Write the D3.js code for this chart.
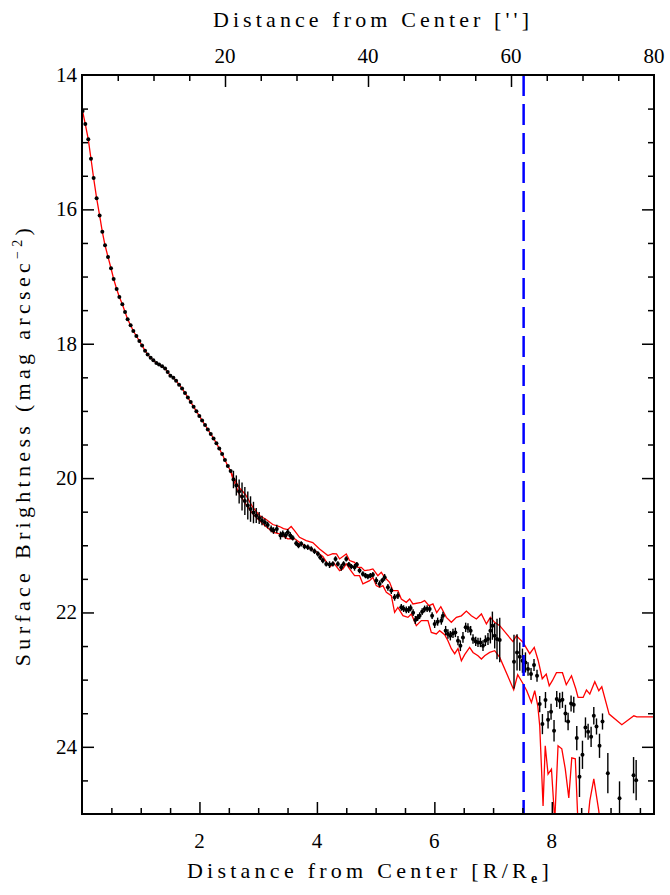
<!DOCTYPE html>
<html><head><meta charset="utf-8">
<script src="https://cdn.jsdelivr.net/npm/d3@7"></script>
<style>
html,body{margin:0;padding:0;background:#fff;}
svg{display:block;}
text{font-family:"Liberation Serif","DejaVu Serif",serif;fill:#000;}
</style></head><body>
<svg id="chart" width="670" height="895"></svg>
<script>
// ---------------- DATA ----------------
const radius = [
0.01,0.056,0.107,0.153,0.198,0.249,0.300,0.346,0.392,0.443,0.494,0.539,0.590,0.636,0.687,0.733,0.777,0.828,0.874,0.926,0.977,1.023,1.074,1.118,1.169,1.215,1.266,1.312,1.364,1.415,1.459,1.505,1.556,1.602,1.653,1.704,
1.754,1.803,1.851,1.900,1.948,1.998,2.045,2.095,2.142,2.192,2.240,2.289,2.337,2.386,2.434,2.483,2.531,
2.579,2.628,2.676,2.725,2.773,2.823,2.870,2.920,2.967,3.017,3.065,3.114,3.162,
3.221,3.261,3.317,3.380,3.419,3.465,3.504,3.547,3.588,3.648,3.687,3.733,3.789,3.845,3.903,3.959,4.016,4.057,4.101,4.159,
4.215,4.271,4.317,4.357,4.415,4.454,4.500,4.544,4.585,4.641,4.680,4.726,4.783,4.829,4.868,4.909,4.953,5.011,5.067,5.113,
5.153,5.209,5.267,5.323,5.379,5.437,5.476,5.522,5.562,5.596,5.638,5.676,5.715,5.749,5.792,5.834,5.877,5.920,5.962,6.005,
6.056,6.119,6.146,6.192,6.231,6.272,6.317,6.358,6.402,6.443,6.487,6.533,6.572,6.618,6.658,6.704,6.743,6.784,6.828,6.869,6.913,
6.954,6.988,7.027,7.067,7.113,7.356,7.408,7.454,7.500,7.551,7.595,7.646,7.697,7.748,7.794,7.840,7.892,7.936,7.987,8.038,
8.084,8.135,8.181,8.232,8.277,8.328,8.374,8.425,8.471,8.522,8.573,8.618,8.669,8.715,8.761,8.812,8.863,8.954,9.153,9.392,9.436
];
const surfBright = [
14.537,14.730,14.958,15.247,15.535,15.833,16.091,16.335,16.534,16.708,16.876,17.036,17.185,17.304,17.413,17.528,17.636,17.726,17.811,17.885,17.960,18.028,18.103,18.162,18.207,18.247,18.288,18.311,18.337,18.367,18.422,18.475,18.505,18.550,18.610,18.665,
18.733,18.802,18.869,18.937,19.006,19.074,19.142,19.210,19.276,19.343,19.410,19.481,19.559,19.641,19.730,19.820,19.894,
20.021,20.110,20.200,20.274,20.341,20.408,20.461,20.513,20.557,20.595,20.632,20.662,20.699,
20.756,20.781,20.756,20.855,20.830,20.855,20.806,20.855,20.890,20.970,21.004,20.979,21.019,21.030,21.054,21.089,21.128,21.179,21.228,21.277,
21.288,21.277,21.203,21.277,21.328,21.277,21.203,21.288,21.317,21.328,21.288,21.377,21.426,21.452,21.466,21.452,21.437,21.526,21.575,21.526,
21.477,21.626,21.675,21.775,21.750,21.924,21.943,21.963,21.958,21.933,22.003,22.112,22.077,22.048,21.988,21.948,21.943,21.948,22.048,22.171,
22.137,22.122,22.048,22.271,22.320,22.346,22.311,22.297,22.420,22.495,22.371,22.222,22.231,22.271,22.395,22.431,22.446,22.446,22.495,22.420,22.395,
22.271,22.197,22.346,22.395,22.410,22.733,22.595,22.659,22.718,22.744,22.842,22.916,22.782,22.942,23.364,23.662,23.304,23.598,23.478,23.762,
23.289,23.314,23.300,23.504,23.623,23.355,23.374,23.870,24.447,24.119,23.712,23.776,23.851,23.538,23.697,23.985,23.623,24.392,24.764,24.422,24.496
];
const surfErr = [
0.005,0.005,0.005,0.005,0.005,0.005,0.005,0.005,0.005,0.005,0.005,0.005,0.005,0.005,0.005,0.005,0.005,0.005,0.005,0.005,0.005,0.005,0.005,0.005,0.005,0.005,0.005,0.005,0.005,0.005,0.005,0.005,0.005,0.005,0.005,0.005,
0.01,0.01,0.01,0.01,0.01,0.01,0.01,0.01,0.01,0.01,0.01,0.01,0.01,0.01,0.01,0.01,0.01,
0.13,0.15,0.18,0.21,0.21,0.21,0.19,0.16,0.11,0.09,0.07,0.06,0.05,
0.05,0.05,0.06,0.06,0.05,0.05,0.05,0.05,0.04,0.04,0.04,0.04,0.04,0.04,0.04,0.04,0.04,0.04,0.04,0.04,
0.05,0.04,0.04,0.04,0.05,0.04,0.04,0.04,0.04,0.05,0.04,0.04,0.04,0.04,0.04,0.04,0.04,0.05,0.05,0.04,
0.05,0.05,0.05,0.05,0.05,0.05,0.05,0.05,0.05,0.05,0.05,0.06,0.05,0.05,0.05,0.05,0.05,0.05,0.05,0.06,
0.06,0.06,0.06,0.07,0.07,0.07,0.07,0.07,0.07,0.08,0.08,0.07,0.07,0.07,0.07,0.07,0.07,0.07,0.08,0.08,0.09,
0.19,0.21,0.19,0.30,0.33,0.40,0.27,0.21,0.18,0.15,0.10,0.09,0.09,0.09,0.12,0.15,0.12,0.13,0.12,0.16,
0.12,0.12,0.12,0.13,0.13,0.12,0.12,0.18,0.30,0.21,0.15,0.12,0.15,0.13,0.12,0.18,0.12,0.30,0.25,0.27,0.30
];
// model envelope (red), bright side
const upperR = [2.562,2.681,2.783,2.908,3.022,3.136,3.249,3.363,3.431,3.504,3.562,3.619,3.704,3.818,3.930,4.045,4.186,4.271,4.334,4.386,
4.500,4.556,4.641,4.698,4.755,4.812,4.897,4.953,5.038,5.096,5.153,5.238,5.294,5.379,5.437,5.522,5.579,5.635,5.778,5.834,
5.908,5.976,6.04,6.11,6.204,6.289,6.375,6.460,6.545,6.630,6.716,6.801,6.886,6.954,7.027,7.113,7.339,7.397,7.510,7.624,
7.701,7.769,7.837,7.905,7.956,8.009,8.079,8.181,8.246,8.335,8.408,8.447,8.533,8.590,8.647,8.732,8.800,8.851,8.976,9.192,
9.397,9.448,9.738];
const upperMag = [19.961,20.148,20.244,20.434,20.557,20.617,20.691,20.721,20.751,20.766,20.721,20.781,20.881,20.930,20.960,21.054,21.153,21.124,21.128,21.203,
21.128,21.228,21.253,21.328,21.328,21.377,21.367,21.352,21.452,21.402,21.477,21.551,21.675,21.675,21.799,21.849,21.799,21.873,21.849,21.824,
21.899,21.873,22.003,21.914,22.073,22.147,22.073,22.050,21.980,22.048,22.097,22.022,22.171,22.073,22.147,22.197,22.435,22.346,22.446,22.614,
22.520,22.718,22.987,22.918,23.091,23.016,22.897,22.897,23.076,22.942,23.136,23.265,23.265,23.155,23.215,23.031,23.165,23.106,23.513,23.672,
23.538,23.553,23.553];
// model envelope (red), faint side
const lowerR = [2.562,2.681,2.783,2.908,3.078,3.249,3.363,3.504,3.619,3.733,3.874,3.988,4.101,4.181,4.232,4.283,4.386,4.442,4.500,4.556,
4.641,4.726,4.783,4.897,4.953,5.011,5.067,5.124,5.182,5.267,5.323,5.379,5.465,5.550,5.608,5.693,5.778,5.891,5.948,6.034,
6.090,6.175,6.231,6.289,6.346,6.402,6.460,6.516,6.601,6.658,6.743,6.801,6.857,6.942,7.027,7.113,7.351,7.419,7.510,7.573,
7.653,7.709,7.761,7.794,7.851,7.888,7.936,7.994,8.050,8.106,8.170,8.229,8.289,8.340,8.400,8.451,8.596,8.647,8.715,8.800,
8.851,9.073,9.738];
const lowerMag = [19.991,20.244,20.379,20.532,20.681,20.806,20.830,20.905,20.900,20.975,21.042,21.094,21.168,21.273,21.317,21.258,21.377,21.352,21.277,21.352,
21.452,21.452,21.575,21.526,21.477,21.601,21.626,21.601,21.700,21.750,21.998,21.924,22.048,22.073,22.022,22.197,22.122,22.122,22.297,22.320,
22.271,22.331,22.420,22.539,22.614,22.539,22.718,22.629,22.520,22.595,22.644,22.693,22.644,22.595,22.569,22.669,23.151,22.927,23.061,23.165,
23.340,23.165,23.389,23.687,24.879,23.985,24.407,24.332,25.103,23.985,24.030,24.328,24.760,24.164,24.179,25.252,25.252,24.805,24.477,24.954,
25.40,25.70,25.70];
const bottomTickLabels = [2,4,6,8];
const topTickLabels = [20,40,60,80];
const leftTickLabels = [14,16,18,20,22,24];
const markerR = 7.52;          // blue dashed line
const rMax = 9.74;             // R/Re at right edge
const arcsecMax = 80;          // arcsec at right edge
const magRange = [14,25];

// ---------------- LAYOUT ----------------
const L=82, R=654, T=75, B=814;
const svg = d3.select("#chart");
const x = d3.scaleLinear().domain([0,rMax]).range([L,R]);
const xTop = d3.scaleLinear().domain([0,arcsecMax]).range([L,R]);
const y = d3.scaleLinear().domain(magRange).range([T,B]);

svg.append("defs").append("clipPath").attr("id","plotclip")
  .append("rect").attr("x",L).attr("y",T).attr("width",R-L).attr("height",B-T);

const plot = svg.append("g").attr("clip-path","url(#plotclip)");

const pts = radius.map((r,i)=>({r, m:surfBright[i], e:surfErr[i]}));
const line = d3.line().x(d=>x(d.r)).y(d=>y(d.m));

// red model: single curve in the inner part, splitting into two envelopes
const inner = pts.filter(d=>d.r < upperR[0]);
const last = inner[inner.length-1];
const up = [last].concat(upperR.map((r,i)=>({r, m:upperMag[i]})));
const lo = [last].concat(lowerR.map((r,i)=>({r, m:lowerMag[i]})));
[inner, up, lo].forEach(arr=>{
  plot.append("path").datum(arr).attr("d",line)
    .attr("fill","none").attr("stroke","#ff0000").attr("stroke-width",1.3);
});

// error bars + points
plot.append("g").selectAll("line").data(pts).join("line")
  .attr("x1",d=>x(d.r)).attr("x2",d=>x(d.r))
  .attr("y1",d=>y(d.m-d.e)).attr("y2",d=>y(d.m+d.e))
  .attr("stroke","#000").attr("stroke-width",1.4);
plot.append("g").selectAll("circle").data(pts).join("circle")
  .attr("cx",d=>x(d.r)).attr("cy",d=>y(d.m)).attr("r",2)
  .attr("fill","#000");

// blue dashed line
plot.append("line").attr("x1",x(markerR)).attr("x2",x(markerR))
  .attr("y1",T).attr("y2",B)
  .attr("stroke","#0000ff").attr("stroke-width",2.5).attr("stroke-dasharray","21,8");

// ---------------- AXES ----------------
function ticks(axisFn, scale, values, size, transform){
  const g = svg.append("g").attr("transform",transform)
    .call(axisFn(scale).tickValues(values).tickSize(-size).tickFormat(""));
  g.select(".domain").remove();
  g.selectAll(".tick line").attr("stroke","#000").attr("stroke-width",1.5);
}
const minorB = d3.range(0.5, rMax, 0.5).filter(v=>v%2!==0);
ticks(d3.axisBottom, x, minorB, 6, `translate(0,${B})`);
ticks(d3.axisBottom, x, bottomTickLabels, 12, `translate(0,${B})`);
const minorT = d3.range(5, arcsecMax, 5).filter(v=>v%20!==0);
ticks(d3.axisTop, xTop, minorT, 6, `translate(0,${T})`);
ticks(d3.axisTop, xTop, topTickLabels.filter(v=>v<arcsecMax), 12, `translate(0,${T})`);
const minorY = d3.range(14.5, 25, 0.5).filter(v=>v%2!==0);
ticks(d3.axisLeft, y, minorY, 6, `translate(${L},0)`);
ticks(d3.axisLeft, y, leftTickLabels.filter(v=>v>14), 12, `translate(${L},0)`);
ticks(d3.axisRight, y, minorY, 6, `translate(${R},0)`);
ticks(d3.axisRight, y, leftTickLabels.filter(v=>v>14), 12, `translate(${R},0)`);

svg.append("rect").attr("x",L).attr("y",T).attr("width",R-L).attr("height",B-T)
  .attr("fill","none").attr("stroke","#000").attr("stroke-width",2);

// tick labels
const fs = 21;
svg.append("g").selectAll("text").data(bottomTickLabels).join("text")
  .attr("x",d=>x(d)).attr("y",848).attr("text-anchor","middle")
  .attr("font-size",fs).text(d=>d);
svg.append("g").selectAll("text").data(topTickLabels).join("text")
  .attr("x",d=>xTop(d)).attr("y",63).attr("text-anchor","middle")
  .attr("font-size",fs).text(d=>d);
svg.append("g").selectAll("text").data(leftTickLabels).join("text")
  .attr("x",77).attr("y",d=>y(d)+7).attr("text-anchor","end")
  .attr("font-size",fs).text(d=>d);

function fit(sel, target){
  const n = sel.text().length;
  const w = sel.node().getComputedTextLength();
  sel.attr("letter-spacing", ((target - w)/(n-1)).toFixed(2));
}

// titles
const bt = svg.append("text").attr("x",370).attr("y",878).attr("text-anchor","middle").attr("font-size",22);
bt.append("tspan").text("Distance from Center [R/R");
bt.append("tspan").attr("font-size",14).attr("dy",5).attr("font-weight","bold").text("e");
bt.append("tspan").attr("dy",-5).text("]");
fit(bt, 362);

const tt = svg.append("text").attr("x",373).attr("y",27).attr("text-anchor","middle").attr("font-size",22)
  .text("Distance from Center ['']");
fit(tt, 316);

const yl = svg.append("text").attr("transform","translate(30,445) rotate(-90)")
  .attr("text-anchor","middle").attr("font-size",22);
yl.append("tspan").text("Surface Brightness (mag arcsec");
yl.append("tspan").attr("font-size",14).attr("dy",-8).text("\u22122");
yl.append("tspan").attr("dy",8).text(")");
fit(yl, 438);
</script>
</body></html>
